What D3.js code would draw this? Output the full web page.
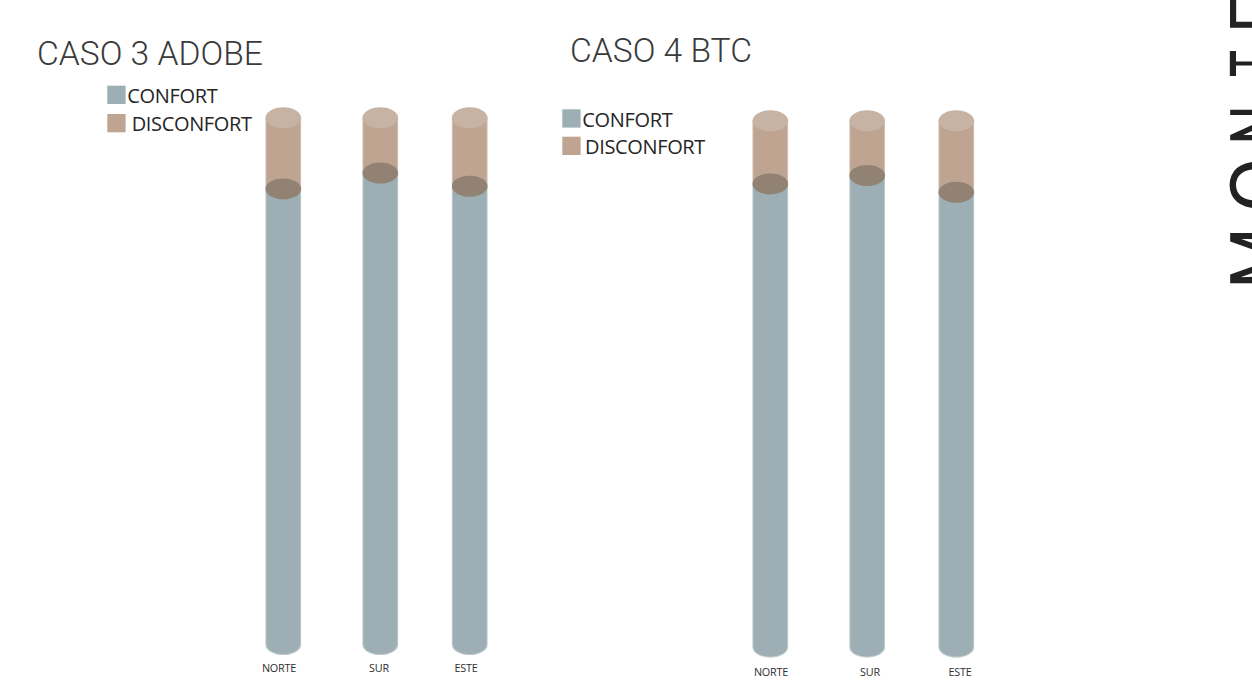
<!DOCTYPE html>
<html>
<head>
<meta charset="utf-8">
<script src="https://cdn.jsdelivr.net/npm/d3@7/dist/d3.min.js"></script>
<style>
  html, body { margin: 0; padding: 0; background: #ffffff; }
  svg { display: block; }
</style>
</head>
<body>
<svg id="chart" width="1252" height="682"></svg>
<script>
// ---- data ----
const categories = ["NORTE", "SUR", "ESTE"];
const seriesNames = ["CONFORT", "DISCONFORT"];
const titles = ["CASO 3 ADOBE", "CASO 4 BTC"];
// percentage of hours in comfort / discomfort per facade
const caso3Confort = [86.5, 89.5, 87.0];
const caso3Disconfort = [13.5, 10.5, 13.0];
const caso4Confort = [88.0, 89.6, 86.4];
const caso4Disconfort = [12.0, 10.4, 13.6];
const sideLetters = ["M", "O", "N", "T", "E"];

// ---- styles ----
const colors = {
  confort: "#9dafb4",
  disconfort: "#bea491",
  topCap: "#c7b3a3",
  splitCap: "#918273",
  text: "#262626",
  title: "#3a3a3a"
};
const RX = 17.8, RY = 10.5;

// ---- layout of the two panels ----
const panels = [
  {
    title: titles[0], titleX: 37, titleY: 65,
    confort: caso3Confort, disconfort: caso3Disconfort,
    xCenters: [283.3, 380.3, 469.7],
    xLabels: [279, 379, 466], labelY: 671.5,
    yRange: [644.5, 117.8],
    legendX: 107.3, legendY: [85.7, 114], legendDx: [20, 24.4]
  },
  {
    title: titles[1], titleX: 570, titleY: 61.7,
    confort: caso4Confort, disconfort: caso4Disconfort,
    xCenters: [770.3, 867.2, 956.3],
    xLabels: [771, 870, 960], labelY: 676,
    yRange: [647, 120.8],
    legendX: 562.3, legendY: [109.3, 136.7], legendDx: [20, 22.7]
  }
];

const svg = d3.select("#chart");

panels.forEach(p => {
  const g = svg.append("g");

  const x = d3.scaleOrdinal().domain(categories).range(p.xCenters);
  const xl = d3.scaleOrdinal().domain(categories).range(p.xLabels);
  const y = d3.scaleLinear().domain([0, 100]).range(p.yRange);

  // title
  g.append("text")
    .attr("x", p.titleX).attr("y", p.titleY)
    .attr("font-family", "Roboto").attr("font-weight", 300)
    .attr("font-size", 33.6).attr("fill", colors.title)
    .text(p.title);

  // legend
  const legendFill = [colors.confort, colors.disconfort];
  seriesNames.forEach((name, i) => {
    g.append("rect")
      .attr("x", p.legendX).attr("y", p.legendY[i])
      .attr("width", 18.3).attr("height", 18.3)
      .attr("fill", legendFill[i]);
    g.append("text")
      .attr("x", p.legendX + p.legendDx[i]).attr("y", p.legendY[i] + 17.4)
      .attr("font-family", "Open Sans").attr("font-size", 20)
      .attr("letter-spacing", -0.35)
      .attr("fill", colors.text)
      .text(name);
  });

  // cylinders
  const rows = categories.map((c, i) => ({
    cat: c, confort: p.confort[i], disconfort: p.disconfort[i]
  }));

  const cyl = g.selectAll("g.cyl").data(rows).join("g").attr("class", "cyl");

  const yBottom = y(0);
  // comfort part: from the split level down to the rounded base
  cyl.append("path")
    .attr("fill", colors.confort)
    .attr("d", d => {
      const cx = x(d.cat), ys = y(d.confort);
      return `M${cx - RX},${ys} L${cx - RX},${yBottom} ` +
             `A${RX},${RY} 0 0 0 ${cx + RX},${yBottom} L${cx + RX},${ys} Z`;
    });
  // discomfort part stacked on top
  cyl.append("rect")
    .attr("fill", colors.disconfort)
    .attr("x", d => x(d.cat) - RX)
    .attr("width", RX * 2)
    .attr("y", d => y(d.confort + d.disconfort))
    .attr("height", d => y(d.confort) - y(d.confort + d.disconfort));
  // faint light rim along the sides
  cyl.append("path")
    .attr("fill", "none")
    .attr("stroke", "rgba(255,255,255,0.45)")
    .attr("stroke-width", 0.8)
    .attr("d", d => {
      const cx = x(d.cat), yt = y(d.confort + d.disconfort);
      return `M${cx - RX + 0.4},${yt} L${cx - RX + 0.4},${yBottom} ` +
             `A${RX - 0.4},${RY - 0.4} 0 0 0 ${cx + RX - 0.4},${yBottom} L${cx + RX - 0.4},${yt}`;
    });
  // split ellipse between both series
  cyl.append("ellipse")
    .attr("fill", colors.splitCap)
    .attr("cx", d => x(d.cat)).attr("cy", d => y(d.confort))
    .attr("rx", RX).attr("ry", RY);
  // top cap
  cyl.append("ellipse")
    .attr("fill", colors.topCap)
    .attr("cx", d => x(d.cat)).attr("cy", d => y(d.confort + d.disconfort))
    .attr("rx", RX).attr("ry", RY);

  // category labels
  g.selectAll("text.cat").data(categories).join("text")
    .attr("class", "cat")
    .attr("x", d => xl(d)).attr("y", p.labelY)
    .attr("text-anchor", "middle")
    .attr("font-family", "Open Sans").attr("font-size", 10.8)
    .attr("letter-spacing", -0.2)
    .attr("fill", "#2e2e2e")
    .text(d => d);
});

// vertical heading on the right edge, read bottom to top
const letterCenters = [258, 185, 125, 63.5, 15];
const letterWidths = [62, 56, 40, 27, 36];
svg.append("g").selectAll("text").data(sideLetters).join("text")
  .attr("transform", (d, i) => `translate(1287,${letterCenters[i]}) rotate(-90)`)
  .attr("text-anchor", "middle")
  .attr("font-family", "Roboto").attr("font-weight", 400)
  .attr("font-size", 80)
  .attr("textLength", (d, i) => letterWidths[i])
  .attr("lengthAdjust", "spacingAndGlyphs")
  .attr("fill", "#222222")
  .text(d => d);
</script>
</body>
</html>
